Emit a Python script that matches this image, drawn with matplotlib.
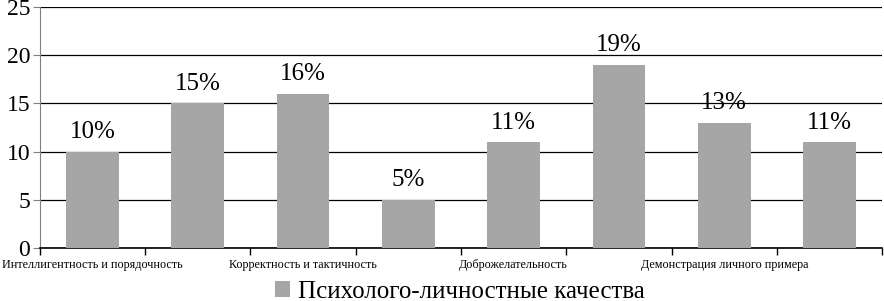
import matplotlib.pyplot as plt
import numpy as np

plt.rcParams['font.family'] = ['Liberation Serif', 'DejaVu Serif']

# categories (only every other label is visible in the original chart)
categories = ['Интеллигентность и порядочность', '',
              'Корректность и тактичность', '',
              'Доброжелательность', '',
              'Демонстрация личного примера', '']
values = [10, 15, 16, 5, 11, 19, 13, 11]
pct_labels = ['10%', '15%', '16%', '5%', '11%', '19%', '13%', '11%']
series_name = 'Психолого-личностные качества'

fig = plt.figure(figsize=(8.84, 3.01), dpi=100)
ax = fig.add_axes([0.045, 0.176, 0.953, 0.801])

x = np.arange(len(values))
bars = ax.bar(x, values, width=0.5, color='#a6a6a6', zorder=3, label=series_name)

for b, lab in zip(bars, pct_labels):
    ax.annotate(lab, (b.get_x() + b.get_width() / 2, b.get_height()),
                xytext=(0, 6), textcoords='offset points',
                ha='center', va='bottom', fontsize=18)

ax.set_xlim(-0.5, len(values) - 0.5)
ax.set_ylim(0, 25)
ax.set_yticks(range(0, 26, 5))
ax.tick_params(axis='y', labelsize=17, length=5, color='#808080', pad=2)
ax.yaxis.grid(True, color='black', linewidth=0.9, zorder=0)

ax.set_xticks(x)
ax.set_xticklabels(categories, fontsize=8.7)
ax.tick_params(axis='x', length=0, pad=8)
ax.set_xticks(np.arange(-0.5, len(values)), minor=True)
ax.tick_params(axis='x', which='minor', length=5, width=1, color='black')

for s in ['top', 'right']:
    ax.spines[s].set_visible(False)
ax.spines['left'].set_color('#808080')
ax.spines['bottom'].set_color('black')
ax.spines['bottom'].set_linewidth(1.2)

fig.legend(handles=[bars], labels=[series_name], loc='lower center',
           bbox_to_anchor=(0.52, -0.08), frameon=False, fontsize=18,
           handlelength=0.6, handleheight=0.6, handletextpad=0.3)

fig.savefig('out.png', dpi=100)
